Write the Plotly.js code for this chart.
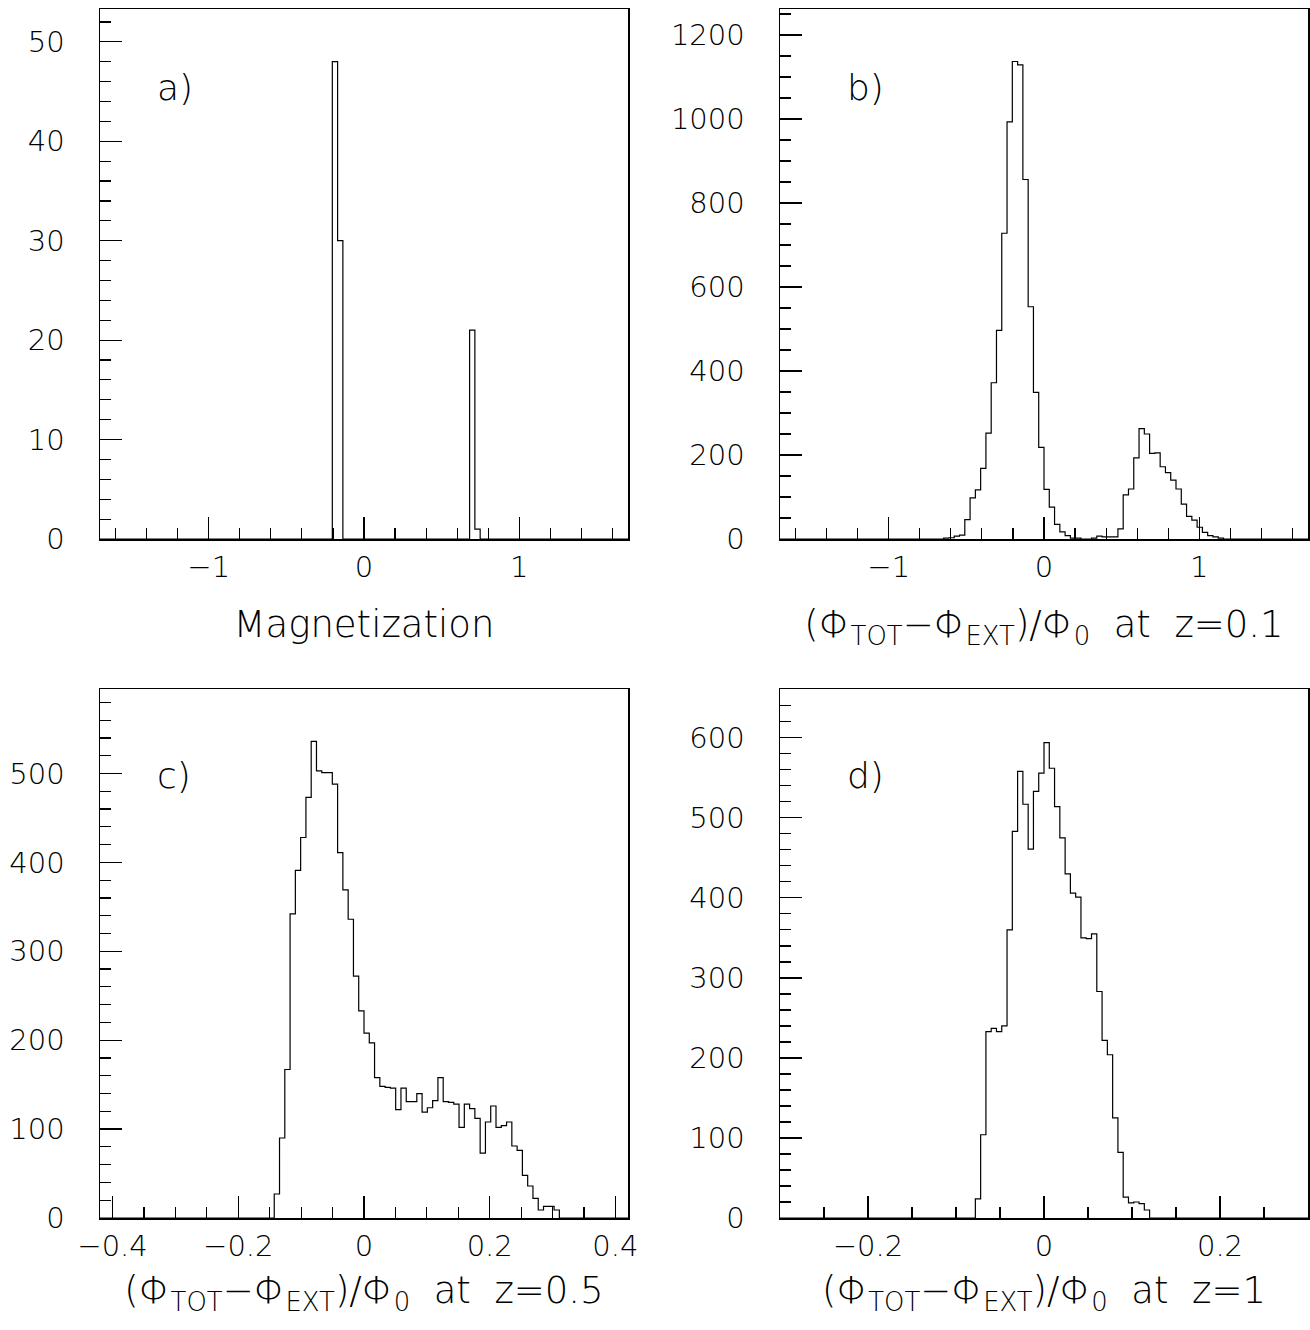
<!DOCTYPE html>
<html><head><meta charset="utf-8">
<script src="https://cdn.plot.ly/plotly-3.0.1.min.js"></script>
<style>html,body{margin:0;padding:0;background:#fff}#chart{width:1310px;height:1330px}</style>
</head><body><div id="chart"></div>
<script>
// ---- data (100 bins per histogram) ----
const N_BINS = 100;

const rangeA = [-1.7, 1.7];
const firstBinA = 44;
const valuesA = [48,30,0,0,0,0,0,0,0,0,0,0,0,0,0,0,0,0,0,0,0,0,0,0,0,0,21,1];

const rangeB = [-1.7, 1.7];
const firstBinB = 31;
const valuesB = [2,3,7,9,46,98,117,168,252,372,497,728,993,1137,1129,856,553,349,218,118,76,35,17,8,2,2,0,0,
                 2,7,5,5,5,24,105,119,193,263,250,204,205,172,158,140,119,83,54,45,28,16,8,5,2];

const rangeC = [-0.42, 0.42];
const firstBinC = 33;
const valuesC = [27,90,167,342,391,428,473,536,503,501,501,488,411,369,336,272,233,208,197,
                 158,148,147,146,122,146,131,131,140,119,124,132,158,131,130,128,102,128,123,112,73,
                 108,126,102,104,108,81,76,48,36,22,9,13,13,9];

const rangeD = [-0.3, 0.3];
const firstBinD = 37;
const valuesD = [24,104,233,237,233,240,360,483,558,517,461,533,556,594,562,514,475,430,406,401,
                 350,349,355,283,222,204,125,82,26,19,20,18,10];

const yMaxA = 53.3, yMaxB = 1262, yMaxC = 595, yMaxD = 661;

const titleA = 'Magnetization';
const titleB = '(Φ<sub>TOT</sub>−Φ<sub>EXT</sub>)/Φ<sub>0</sub>&nbsp;&nbsp;at&nbsp;&nbsp;z=0.1';
const titleC = '(Φ<sub>TOT</sub>−Φ<sub>EXT</sub>)/Φ<sub>0</sub>&nbsp;&nbsp;at&nbsp;&nbsp;z=0.5';
const titleD = '(Φ<sub>TOT</sub>−Φ<sub>EXT</sub>)/Φ<sub>0</sub>&nbsp;&nbsp;at&nbsp;&nbsp;z=1';
const panelLabels = ['a)', 'b)', 'c)', 'd)'];

// ---- helpers ----
function fullCounts(first, vals) {
  const c = new Array(N_BINS).fill(0);
  vals.forEach((v, i) => { c[first + i] = v; });
  return c;
}
function stepTrace(range, counts, xa, ya) {
  const w = (range[1] - range[0]) / counts.length;
  const x = [], y = [];
  for (let i = 0; i <= counts.length; i++) {
    x.push(range[0] + i * w);
    y.push(i < counts.length ? counts[i] : counts[counts.length - 1]);
  }
  return {type: 'scatter', mode: 'lines', x: x, y: y, xaxis: xa, yaxis: ya,
          line: {shape: 'hv', color: '#000', width: 1.2}, hoverinfo: 'skip', showlegend: false};
}

const FAMILY = 'DejaVu Sans, sans-serif';
const tickFont = {family: FAMILY, size: 29, color: '#000', weight: 200};
const titleFont = {family: FAMILY, size: 37, color: '#000', weight: 200};

function xAxis(domain, range, dtick, mdtick, anchor, text, standoff) {
  return {domain: domain, range: range, anchor: anchor, showline: true, linecolor: '#000', linewidth: 1.5,
    mirror: true, ticks: 'inside', ticklen: 22, tickwidth: 1.2, tickcolor: '#000', tick0: 0, dtick: dtick,
    tickfont: tickFont, ticklabelstandoff: 2, showgrid: false, zeroline: false, fixedrange: true,
    minor: {tick0: 0, dtick: mdtick, ticks: 'inside', ticklen: 11, tickwidth: 1.2, tickcolor: '#000', showgrid: false},
    title: {text: text, font: titleFont, standoff: standoff}};
}
function yAxis(domain, range, dtick, mdtick, anchor) {
  return {domain: domain, range: range, anchor: anchor, showline: true, linecolor: '#000', linewidth: 1.5,
    mirror: true, ticks: 'inside', ticklen: 22, tickwidth: 1.2, tickcolor: '#000', tick0: 0, dtick: dtick,
    tickfont: tickFont, ticklabelstandoff: 28, showgrid: false, zeroline: false, fixedrange: true,
    minor: {tick0: 0, dtick: mdtick, ticks: 'inside', ticklen: 11, tickwidth: 1.2, tickcolor: '#000', showgrid: false}};
}

const W = 1310, H = 1330;
const dxL = [100 / W, 628 / W], dxR = [780 / W, 1308 / W];
const dyT = [(H - 539) / H, (H - 9) / H], dyB = [(H - 1218) / H, (H - 689) / H];

const data = [
  stepTrace(rangeA, fullCounts(firstBinA, valuesA), 'x', 'y'),
  stepTrace(rangeB, fullCounts(firstBinB, valuesB), 'x2', 'y2'),
  stepTrace(rangeC, fullCounts(firstBinC, valuesC), 'x3', 'y3'),
  stepTrace(rangeD, fullCounts(firstBinD, valuesD), 'x4', 'y4')
];

const labelPos = [[155, 88], [845, 88], [155, 775], [845, 775]];
const annotations = panelLabels.map((t, i) => ({
  text: t, xref: 'paper', yref: 'paper', x: labelPos[i][0] / W, y: 1 - labelPos[i][1] / H,
  xanchor: 'left', yanchor: 'middle', showarrow: false, font: {family: FAMILY, size: 36, color: '#000', weight: 200}
}));

const layout = {
  width: W, height: H, margin: {l: 0, r: 0, t: 0, b: 0}, paper_bgcolor: '#fff', plot_bgcolor: '#fff',
  showlegend: false, annotations: annotations,
  xaxis: xAxis(dxL, rangeA, 1, 0.2, 'y', titleA, 28),
  yaxis: yAxis(dyT, [0, yMaxA], 10, 2, 'x'),
  xaxis2: xAxis(dxR, rangeB, 1, 0.2, 'y2', titleB, 28),
  yaxis2: yAxis(dyT, [0, yMaxB], 200, 50, 'x2'),
  xaxis3: xAxis(dxL, rangeC, 0.2, 0.05, 'y3', titleC, 15),
  yaxis3: yAxis(dyB, [0, yMaxC], 100, 20, 'x3'),
  xaxis4: xAxis(dxR, rangeD, 0.2, 0.05, 'y4', titleD, 15),
  yaxis4: yAxis(dyB, [0, yMaxD], 100, 20, 'x4')
};

Plotly.newPlot('chart', data, layout, {staticPlot: true, displayModeBar: false});
</script></body></html>
